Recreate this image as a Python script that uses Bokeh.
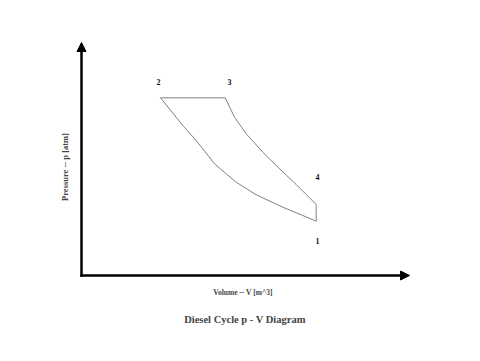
import math
from bokeh.plotting import figure
from bokeh.models import Range1d, Arrow, NormalHead, Label, ColumnDataSource
from bokeh.core.properties import value
from bokeh.embed import file_html
from bokeh.resources import INLINE

# Diesel cycle states (arbitrary units)
# compression 1 -> 2
comp_v = [2.347, 2.213, 2.013, 1.747, 1.547, 1.447, 1.33, 1.147, 1.013, 0.79]
comp_p = [1.086, 1.20, 1.366, 1.614, 1.866, 2.034, 2.234, 2.70, 3.00, 3.554]
# expansion 3 -> 4
exp_v = [1.437, 1.53, 1.647, 1.813, 1.947, 2.147, 2.347]
exp_p = [3.554, 3.166, 2.834, 2.466, 2.20, 1.82, 1.42]

state_names = ["1", "2", "3", "4"]
label_v = [2.36, 0.77, 1.48, 2.36]
label_p = [0.70, 3.88, 3.88, 1.98]

axis_v_end = 3.28
axis_p_end = 4.66

title_text = "Diesel Cycle p - V Diagram"
x_title = "Volume -- V [m^3]"
y_title = "Pressure -- p [atm]"

# closed loop: 1 -> 2 -> 3 -> 4 -> 1
loop_v = comp_v + exp_v + [comp_v[0]]
loop_p = comp_p + exp_p + [comp_p[0]]

p = figure(width=464, height=345, output_backend="svg", toolbar_location=None,
           x_range=Range1d(-0.81, 3.83), y_range=Range1d(-1.40, 5.50),
           min_border=0, x_axis_location=None, y_axis_location=None)
p.outline_line_color = None
p.xgrid.visible = False
p.ygrid.visible = False
p.background_fill_color = "white"
p.border_fill_color = "white"

p.line(loop_v, loop_p, line_color="#808080", line_width=1)

# axes as arrows
p.add_layout(Arrow(end=NormalHead(size=9, fill_color="black", line_color="black", line_width=1),
                   x_start=0, y_start=0, x_end=axis_v_end, y_end=0,
                   line_color="black", line_width=2.5, line_cap="square"))
p.add_layout(Arrow(end=NormalHead(size=9, fill_color="black", line_color="black", line_width=1),
                   x_start=0, y_start=0, x_end=0, y_end=axis_p_end,
                   line_color="black", line_width=2.5, line_cap="square"))

src = ColumnDataSource(dict(x=label_v, y=label_p, t=state_names))
p.text("x", "y", text="t", source=src, text_font=value("Liberation Serif"),
       text_font_style="bold", text_font_size="8px", text_align="center",
       text_baseline="middle", text_color="#111111")

p.add_layout(Label(x=1.615, y=-0.34, text=x_title, text_font="Liberation Serif",
                   text_font_style="bold", text_font_size="7.5px",
                   text_align="center", text_baseline="middle"))
p.add_layout(Label(x=-0.167, y=2.17, text=y_title, text_font="Liberation Serif",
                   text_font_style="bold", text_font_size="8.5px", angle=math.pi / 2,
                   text_align="center", text_baseline="middle"))
p.add_layout(Label(x=1.635, y=-0.88, text=title_text, text_font="Liberation Serif",
                   text_font_style="bold", text_font_size="10.5px",
                   text_align="center", text_baseline="middle"))

open("out.html", "w").write(file_html(p, INLINE))
